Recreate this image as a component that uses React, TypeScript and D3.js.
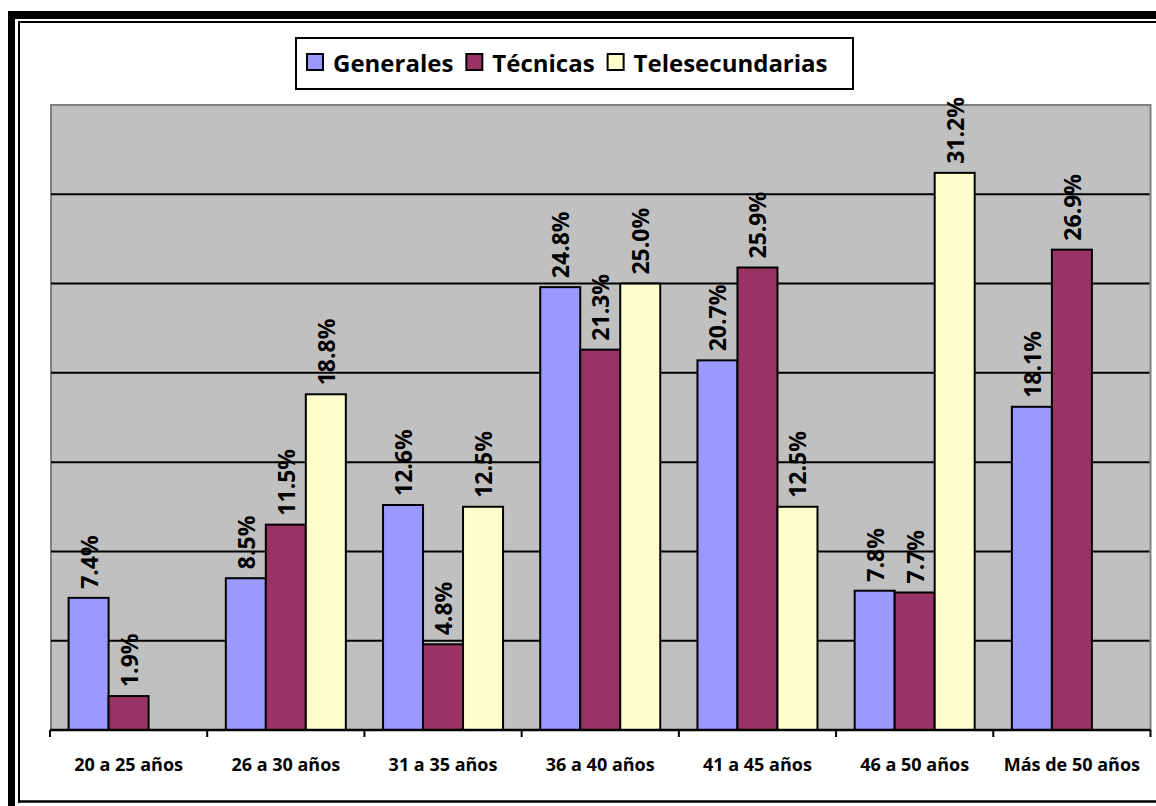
import React from "react";
import * as d3 from "d3";

// Age brackets and the share of teachers per school type (percent)
const categories = [
  "20 a 25 años",
  "26 a 30 años",
  "31 a 35 años",
  "36 a 40 años",
  "41 a 45 años",
  "46 a 50 años",
  "Más de 50 años",
];
const generales = [7.4, 8.5, 12.6, 24.8, 20.7, 7.8, 18.1];
const tecnicas = [1.9, 11.5, 4.8, 21.3, 25.9, 7.7, 26.9];
const telesecundarias: (number | null)[] = [null, 18.8, 12.5, 25.0, 12.5, 31.2, null];
const seriesNames = ["Generales", "Técnicas", "Telesecundarias"];
const seriesColors = ["#9999FF", "#993366", "#FFFFCC"];
const yTicks = [0, 5, 10, 15, 20, 25, 30, 35];

const W = 1156;
const H = 806;
const FONT = "'Open Sans', Lato, 'DejaVu Sans', sans-serif";

function measure(text: string, size: number): number {
  const c = document.createElement("canvas").getContext("2d");
  if (!c) return text.length * size * 0.55;
  c.font = `bold ${size}px 'Open Sans'`;
  return c.measureText(text).width;
}

export default function App() {
  const plot = { left: 50, right: 1150.5, top: 105, bottom: 730 };
  const y = d3.scaleLinear().domain([0, 35]).range([plot.bottom, plot.top]);
  const x0 = d3.scaleBand<string>().domain(categories).range([plot.left, plot.right]).padding(0);
  const x1 = d3
    .scaleBand<string>()
    .domain(seriesNames)
    .range([0, x0.bandwidth()])
    .paddingInner(0)
    .paddingOuter(0.465);

  const seriesValues: (number | null)[][] = [generales, tecnicas, telesecundarias];

  // legend layout: swatch, text, then a gap before the next entry
  const legendFont = 24;
  const sw = 16;
  const items: { name: string; color: string; x: number; tx: number }[] = [];
  let cx = 307;
  seriesNames.forEach((name, i) => {
    const tw = measure(name, legendFont);
    items.push({ name, color: seriesColors[i], x: cx, tx: cx + sw + 10 });
    cx += sw + 10 + tw + 13;
  });

  const boundaries = d3.range(categories.length + 1).map((i) =>
    i === categories.length ? plot.right : (x0(categories[i]) as number)
  );

  return (
    <svg
      width={W}
      height={H}
      style={{ position: "absolute", left: 0, top: 0, background: "#fff" }}
      fontFamily={FONT}
    >
      {/* outer frame */}
      <line x1={11.5} y1={11} x2={11.5} y2={H} stroke="#000" strokeWidth={7} />
      <line x1={8} y1={15} x2={W} y2={15} stroke="#000" strokeWidth={8} />
      <line x1={19} y1={21} x2={19} y2={803} stroke="#000" strokeWidth={2} />
      <line x1={18} y1={22} x2={W} y2={22} stroke="#000" strokeWidth={2} />
      <line x1={18} y1={801.5} x2={W} y2={801.5} stroke="#000" strokeWidth={2.5} />

      {/* plot area */}
      <rect
        x={51}
        y={plot.top}
        width={plot.right - 51}
        height={plot.bottom - plot.top}
        fill="#C0C0C0"
        stroke="#808080"
        strokeWidth={2}
      />
      {yTicks
        .filter((t) => t > 0 && t < 35)
        .map((t) => (
          <line key={t} x1={51} x2={plot.right - 1} y1={y(t)} y2={y(t)} stroke="#000" strokeWidth={2} />
        ))}

      {/* bars */}
      {categories.map((cat, ci) =>
        seriesNames.map((s, si) => {
          const v = seriesValues[si][ci];
          if (v == null) return null;
          const bx = (x0(cat) as number) + (x1(s) as number);
          return (
            <rect
              key={cat + s}
              x={bx}
              y={y(v)}
              width={x1.bandwidth()}
              height={y(0) - y(v)}
              fill={seriesColors[si]}
              stroke="#000"
              strokeWidth={2}
            />
          );
        })
      )}

      {/* value labels */}
      {categories.map((cat, ci) =>
        seriesNames.map((s, si) => {
          const v = seriesValues[si][ci];
          if (v == null) return null;
          const bx = (x0(cat) as number) + (x1(s) as number) + x1.bandwidth() / 2;
          return (
            <text
              key={"l" + cat + s}
              transform={`translate(${bx},${y(v) - 9}) rotate(-90)`}
              textAnchor="start"
              dominantBaseline="central"
              fontSize={23}
              fontWeight="bold"
              fill="#000"
            >
              {v.toFixed(1) + "%"}
            </text>
          );
        })
      )}

      {/* category axis */}
      <line x1={plot.left} x2={plot.right} y1={plot.bottom} y2={plot.bottom} stroke="#000" strokeWidth={2.5} />
      {boundaries.map((bx, i) => (
        <line key={"t" + i} x1={bx} x2={bx} y1={plot.bottom} y2={737} stroke="#000" strokeWidth={2} />
      ))}
      {categories.map((cat) => (
        <text
          key={"c" + cat}
          x={(x0(cat) as number) + x0.bandwidth() / 2}
          y={771}
          textAnchor="middle"
          fontSize={18}
          fontWeight="bold"
          fill="#000"
        >
          {cat}
        </text>
      ))}

      {/* legend */}
      <rect x={296} y={38} width={557} height={51} fill="#fff" stroke="#000" strokeWidth={2} />
      {items.map((it) => (
        <g key={it.name}>
          <rect x={it.x} y={54} width={sw} height={sw} fill={it.color} stroke="#000" strokeWidth={2} />
          <text x={it.tx} y={72} fontSize={legendFont} fontWeight="bold" fill="#000">
            {it.name}
          </text>
        </g>
      ))}
    </svg>
  );
}
